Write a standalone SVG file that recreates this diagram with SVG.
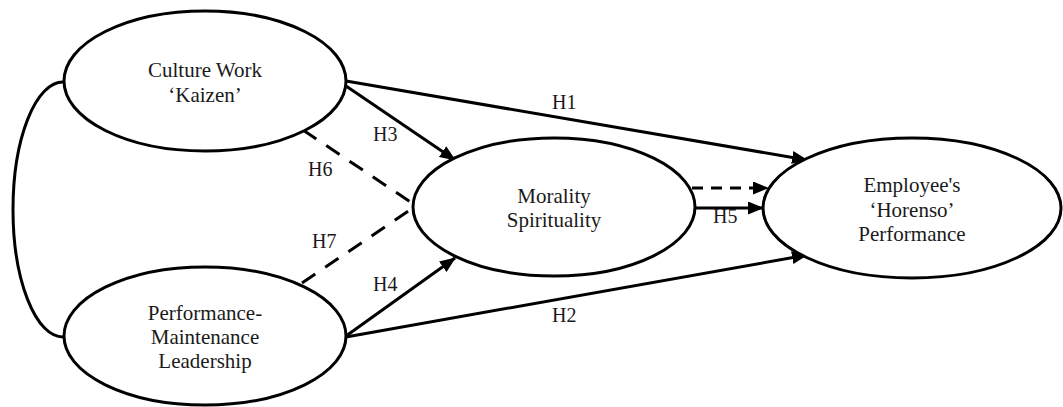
<svg xmlns="http://www.w3.org/2000/svg" width="1063" height="407" viewBox="0 0 1063 407">
<defs>
<style>
.node{fill:#fff;stroke:#000;stroke-width:3}
.t{font-family:"Liberation Serif","Times New Roman",serif;font-size:21px;fill:#1a1a1a;text-anchor:middle}
.lbl{font-family:"Liberation Serif","Times New Roman",serif;font-size:20px;fill:#1a1a1a}
.c{fill:none;stroke:#000;stroke-width:3}
.d{stroke-dasharray:16 12}
.dh{stroke-dasharray:11 8}
</style>
<marker id="ah" markerUnits="userSpaceOnUse" markerWidth="16" markerHeight="13" refX="15" refY="6.5" orient="auto">
<path d="M0,0 L16,6.5 L0,13 z" fill="#000"/>
</marker>
</defs>
<g id="connectors">
<path class="c" d="M63,82 A50,127.5 0 0 0 63,337"/>
<path class="c" d="M346,81 L807,160" marker-end="url(#ah)"/>
<path class="c" d="M346,86 L455,160" marker-end="url(#ah)"/>
<path class="c" d="M346,336 L455,258" marker-end="url(#ah)"/>
<path class="c" d="M346,337 L807,255" marker-end="url(#ah)"/>
<path class="c" d="M695,208 L763,208" marker-end="url(#ah)"/>
<path class="c dh" d="M692,188 L768,188" marker-end="url(#ah)"/>
<path class="c d" d="M303,130 L412,203"/>
<path class="c d" d="M302,283 L410,210"/>
<text class="lbl" x="552" y="109">H1</text>
<text class="lbl" x="373" y="141">H3</text>
<text class="lbl" x="308" y="176">H6</text>
<text class="lbl" x="312" y="248">H7</text>
<text class="lbl" x="373" y="291">H4</text>
<text class="lbl" x="552" y="322">H2</text>
<text class="lbl" x="713" y="223">H5</text>
</g>
<g id="culture">
<ellipse class="node" cx="205" cy="81" rx="141" ry="70"/>
<text class="t" x="205" y="77">Culture Work</text>
<text class="t" x="205" y="102">&#8216;Kaizen&#8217;</text>
</g>
<g id="leadership">
<ellipse class="node" cx="205" cy="336" rx="141" ry="69"/>
<text class="t" x="205" y="320">Performance-</text>
<text class="t" x="205" y="344">Maintenance</text>
<text class="t" x="205" y="368">Leadership</text>
</g>
<g id="morality">
<ellipse class="node" cx="554" cy="207" rx="141" ry="69"/>
<text class="t" x="554" y="203">Morality</text>
<text class="t" x="554" y="227">Spirituality</text>
</g>
<g id="employee">
<ellipse class="node" cx="912" cy="208" rx="149" ry="70"/>
<text class="t" x="912" y="192">Employee's</text>
<text class="t" x="912" y="217">&#8216;Horenso&#8217;</text>
<text class="t" x="912" y="241">Performance</text>
</g>
</svg>
